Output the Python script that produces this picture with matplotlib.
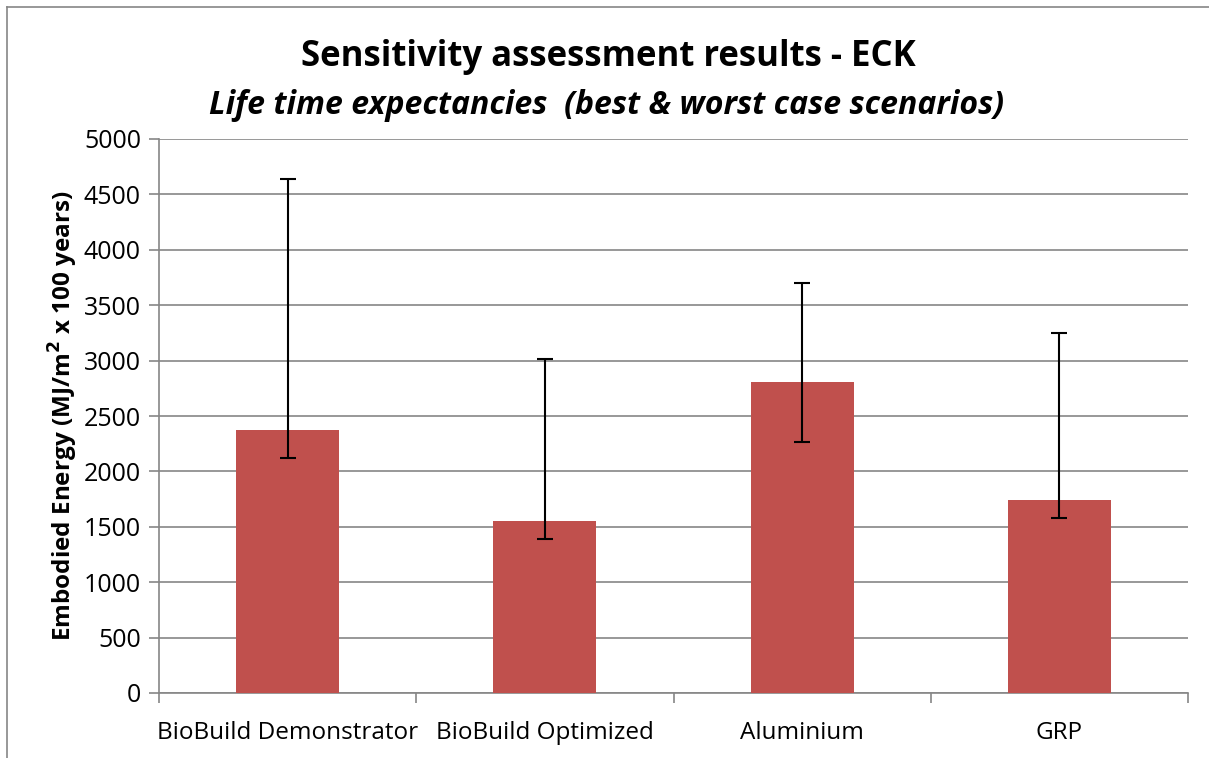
import numpy as np
import matplotlib.pyplot as plt
from matplotlib.lines import Line2D

plt.rcParams['font.family'] = ['Open Sans', 'DejaVu Sans']

# Данные
categories = ['BioBuild Demonstrator', 'BioBuild Optimized', 'Aluminium', 'GRP']
values = [2370, 1550, 2805, 1740]
best_case = [2120, 1390, 2265, 1577]
worst_case = [4642, 3015, 3697, 3250]

err_low = np.array(values) - np.array(best_case)
err_high = np.array(worst_case) - np.array(values)

fig = plt.figure(figsize=(12.09, 7.58), dpi=100)
ax = fig.add_axes([159 / 1209, 1 - 693 / 758, (1188 - 159) / 1209, (693 - 139) / 758])

x = np.arange(len(categories))
ax.bar(x, values, width=0.4, color='#C0504D', zorder=3,
       yerr=[err_low, err_high], capsize=5.5,
       error_kw=dict(ecolor='black', elinewidth=1.5, capthick=1.5, zorder=4))

ax.set_xlim(-0.5, len(categories) - 0.5)
ax.set_ylim(0, 5000)
ax.set_yticks(np.arange(0, 5001, 500))
ax.yaxis.grid(True, color='#868686', linewidth=1.2, zorder=0)

ax.set_xticks(x)
ax.set_xticklabels(categories, fontsize=17.5)
ax.set_xticks(np.arange(-0.5, len(categories)), minor=True)
ax.tick_params(axis='x', which='major', length=0, pad=20)
ax.tick_params(axis='x', which='minor', length=7, color='#868686', width=1.2)
ax.tick_params(axis='y', labelsize=18, length=7, color='#868686', width=1.2, pad=6)

for side in ['top', 'right']:
    ax.spines[side].set_visible(False)
for side in ['left', 'bottom']:
    ax.spines[side].set_color('#868686')
    ax.spines[side].set_linewidth(1.2)

ax.set_ylabel('Embodied Energy (MJ/m$^\\mathbf{2}$ x 100 years)', fontsize=17.5,
              fontweight='bold', labelpad=3)

fig.text(0.503, 1 - 57 / 758, 'Sensitivity assessment results - ECK',
         ha='center', va='center', fontsize=25, fontweight='bold')
fig.text(0.502, 1 - 105 / 758, 'Life time expectancies  (best & worst case scenarios)',
         ha='center', va='center', fontsize=23, fontweight='bold', style='italic')

# рамка диаграммы (видны только верх и левый край)
fig.lines.append(Line2D([7 / 1209, 1], [1 - 7 / 758, 1 - 7 / 758],
                        transform=fig.transFigure, color='#868686', linewidth=1.2))
fig.lines.append(Line2D([7 / 1209, 7 / 1209], [0, 1 - 7 / 758],
                        transform=fig.transFigure, color='#868686', linewidth=1.2))

fig.savefig('out.png', dpi=100)
